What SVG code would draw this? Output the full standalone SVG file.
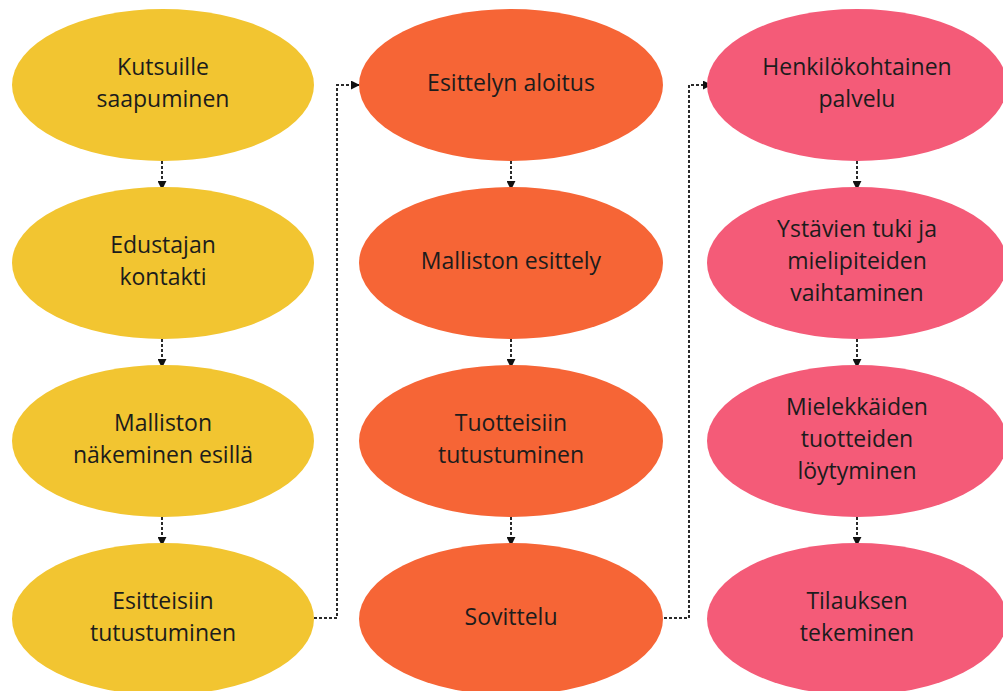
<svg xmlns="http://www.w3.org/2000/svg" width="1003" height="691" viewBox="0 0 1003 691">
  <style>
    .yellow { fill: #F2C531; }
    .orange { fill: #F66536; }
    .pink { fill: #F45B78; }
    text { font-family: "Open Sans", "Noto Sans", sans-serif; font-size: 23px; fill: #1c1c1c; text-anchor: middle; }
    .link { fill: none; stroke: #2a2a2a; stroke-width: 2; stroke-dasharray: 3 2; }
  </style>
  <defs>
    <marker id="arrow" viewBox="0 0 10 10" refX="9" refY="5" markerWidth="9" markerHeight="9" orient="auto" markerUnits="userSpaceOnUse">
      <path d="M0,0 L10,5 L0,10 z" fill="#111"/>
    </marker>
  </defs>
  <rect width="1003" height="691" fill="#ffffff"/>

  <!-- connectors -->
  <g id="connectors">
    <path class="link" d="M162,161 V189" marker-end="url(#arrow)"/>
    <path class="link" d="M162,339 V367" marker-end="url(#arrow)"/>
    <path class="link" d="M162,517 V545" marker-end="url(#arrow)"/>
    <path class="link" d="M314,618 H337 V85 H359" marker-end="url(#arrow)"/>
    <path class="link" d="M511,161 V189" marker-end="url(#arrow)"/>
    <path class="link" d="M511,339 V367" marker-end="url(#arrow)"/>
    <path class="link" d="M511,517 V545" marker-end="url(#arrow)"/>
    <path class="link" d="M664,618 H689 V85 H711" marker-end="url(#arrow)"/>
    <path class="link" d="M857,161 V189" marker-end="url(#arrow)"/>
    <path class="link" d="M857,339 V367" marker-end="url(#arrow)"/>
    <path class="link" d="M857,517 V545" marker-end="url(#arrow)"/>
  </g>

  <!-- column 1 -->
  <g id="n1">
    <ellipse class="yellow" cx="163" cy="85" rx="151" ry="76"/>
    <text x="163" y="75">Kutsuille</text>
    <text x="163" y="107">saapuminen</text>
  </g>
  <g id="n2">
    <ellipse class="yellow" cx="163" cy="263" rx="151" ry="76"/>
    <text x="163" y="253">Edustajan</text>
    <text x="163" y="285">kontakti</text>
  </g>
  <g id="n3">
    <ellipse class="yellow" cx="163" cy="441" rx="151" ry="76"/>
    <text x="163" y="431">Malliston</text>
    <text x="163" y="463">näkeminen esillä</text>
  </g>
  <g id="n4">
    <ellipse class="yellow" cx="163" cy="619" rx="151" ry="76"/>
    <text x="163" y="609">Esitteisiin</text>
    <text x="163" y="641">tutustuminen</text>
  </g>

  <!-- column 2 -->
  <g id="n5">
    <ellipse class="orange" cx="511" cy="85" rx="152" ry="76"/>
    <text x="511" y="91">Esittelyn aloitus</text>
  </g>
  <g id="n6">
    <ellipse class="orange" cx="511" cy="263" rx="152" ry="76"/>
    <text x="511" y="269">Malliston esittely</text>
  </g>
  <g id="n7">
    <ellipse class="orange" cx="511" cy="441" rx="152" ry="76"/>
    <text x="511" y="431">Tuotteisiin</text>
    <text x="511" y="463">tutustuminen</text>
  </g>
  <g id="n8">
    <ellipse class="orange" cx="511" cy="619" rx="152" ry="76"/>
    <text x="511" y="625">Sovittelu</text>
  </g>

  <!-- column 3 -->
  <g id="n9">
    <ellipse class="pink" cx="857" cy="85" rx="150" ry="76"/>
    <text x="857" y="75">Henkilökohtainen</text>
    <text x="857" y="107">palvelu</text>
  </g>
  <g id="n10">
    <ellipse class="pink" cx="857" cy="263" rx="150" ry="76"/>
    <text x="857" y="237">Ystävien tuki ja</text>
    <text x="857" y="269">mielipiteiden</text>
    <text x="857" y="301">vaihtaminen</text>
  </g>
  <g id="n11">
    <ellipse class="pink" cx="857" cy="441" rx="150" ry="76"/>
    <text x="857" y="415">Mielekkäiden</text>
    <text x="857" y="447">tuotteiden</text>
    <text x="857" y="479">löytyminen</text>
  </g>
  <g id="n12">
    <ellipse class="pink" cx="857" cy="619" rx="150" ry="76"/>
    <text x="857" y="609">Tilauksen</text>
    <text x="857" y="641">tekeminen</text>
  </g>
</svg>
